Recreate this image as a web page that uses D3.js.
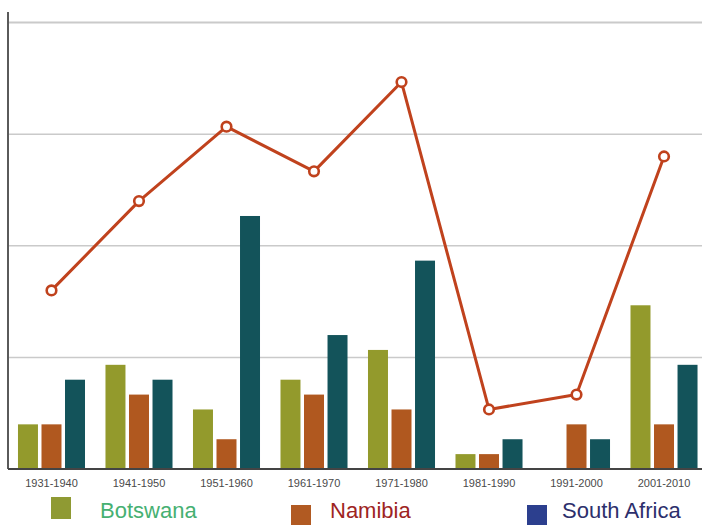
<!DOCTYPE html>
<html>
<head>
<meta charset="utf-8">
<script src="https://cdn.jsdelivr.net/npm/d3@7"></script>
<style>
  html, body { margin: 0; padding: 0; background: #ffffff; }
  svg { display: block; }
</style>
</head>
<body>
<svg id="chart" width="702" height="525"></svg>
<script>
// Decades shown along the x axis
const decades = ["1931-1940", "1941-1950", "1951-1960", "1961-1970",
                 "1971-1980", "1981-1990", "1991-2000", "2001-2010"];
const countries = ["Botswana", "Namibia", "South Africa"];

// Counts per decade for each country
const botswana    = [3, 7, 4, 6, 8, 1, 0, 11];
const namibia     = [3, 5, 2, 5, 4, 1, 3, 3];
const southAfrica = [6, 6, 17, 9, 14, 2, 2, 7];
// Combined total per decade (drawn as the line)
const totals      = [12, 18, 23, 20, 26, 4, 5, 21];

const gridTicks = [7.5, 15, 22.5, 30];

const barColors = { "Botswana": "#939a2c", "Namibia": "#b0581f", "South Africa": "#13535a" };
const legendSwatch = { "Botswana": "#8f9a33", "Namibia": "#b15a22", "South Africa": "#2c3f8e" };
const legendText = { "Botswana": "#46b072", "Namibia": "#9e2422", "South Africa": "#2d2f6c" };
const lineColor = "#c0421d";

const svg = d3.select("#chart");

const axisX = 8, baseY = 469, topY = 22.5;

const x = d3.scaleBand().domain(decades).range([axisX, 707.5])
  .paddingInner(0.234).paddingOuter(0.114);
const xs = d3.scaleBand().domain(countries).range([0, x.bandwidth()]).paddingInner(0.15);
const y = d3.scaleLinear().domain([0, 30]).range([baseY, topY]);

// Horizontal gridlines
svg.append("g").selectAll("line").data(gridTicks).join("line")
  .attr("x1", axisX).attr("x2", 702)
  .attr("y1", d => y(d)).attr("y2", d => y(d))
  .attr("stroke", "#cacaca").attr("stroke-width", d => d === 30 ? 2 : 1.5);

// Grouped bars
const series = { "Botswana": botswana, "Namibia": namibia, "South Africa": southAfrica };
const rows = [];
decades.forEach((dec, i) => countries.forEach(c => rows.push({ dec, c, v: series[c][i] })));
svg.append("g").selectAll("rect").data(rows.filter(r => r.v > 0)).join("rect")
  .attr("x", r => x(r.dec) + xs(r.c))
  .attr("width", xs.bandwidth())
  .attr("y", r => y(r.v))
  .attr("height", r => baseY - y(r.v))
  .attr("fill", r => barColors[r.c]);

// Axes lines
svg.append("line").attr("x1", axisX).attr("x2", axisX).attr("y1", 12).attr("y2", baseY)
  .attr("stroke", "#5a5a5a").attr("stroke-width", 2);
svg.append("line").attr("x1", axisX).attr("x2", 702).attr("y1", baseY).attr("y2", baseY)
  .attr("stroke", "#444").attr("stroke-width", 2);

// X tick labels
const xAxis = d3.axisBottom(x).tickSize(0).tickPadding(10);
const gx = svg.append("g").attr("transform", `translate(0,${baseY})`).call(xAxis);
gx.select(".domain").remove();
gx.selectAll("text")
  .attr("font-family", "Liberation Sans, Arial, sans-serif")
  .attr("font-size", 11).attr("fill", "#4a4a4a");

// Total line with open circle markers
const cx = d => x(d) + x.bandwidth() / 2;
const line = d3.line().x((d, i) => cx(decades[i])).y(d => y(d));
svg.append("path").datum(totals)
  .attr("d", line).attr("fill", "none")
  .attr("stroke", lineColor).attr("stroke-width", 3).attr("stroke-linejoin", "round");
svg.append("g").selectAll("circle").data(totals).join("circle")
  .attr("cx", (d, i) => cx(decades[i])).attr("cy", d => y(d)).attr("r", 4.8)
  .attr("fill", "#fff").attr("stroke", lineColor).attr("stroke-width", 2.6);

// Legend
const legendItems = [
  { c: "Botswana", sx: 51, sy: 497, tx: 100 },
  { c: "Namibia", sx: 291, sy: 505, tx: 330 },
  { c: "South Africa", sx: 527, sy: 505, tx: 562 }
];
const lg = svg.append("g").selectAll("g").data(legendItems).join("g");
lg.append("rect").attr("x", d => d.sx).attr("y", d => d.sy)
  .attr("width", 20).attr("height", 22).attr("fill", d => legendSwatch[d.c]);
lg.append("text").attr("x", d => d.tx).attr("y", 518)
  .attr("font-family", "Liberation Sans, Arial, sans-serif").attr("font-size", 22)
  .attr("fill", d => legendText[d.c]).text(d => d.c);
</script>
</body>
</html>
